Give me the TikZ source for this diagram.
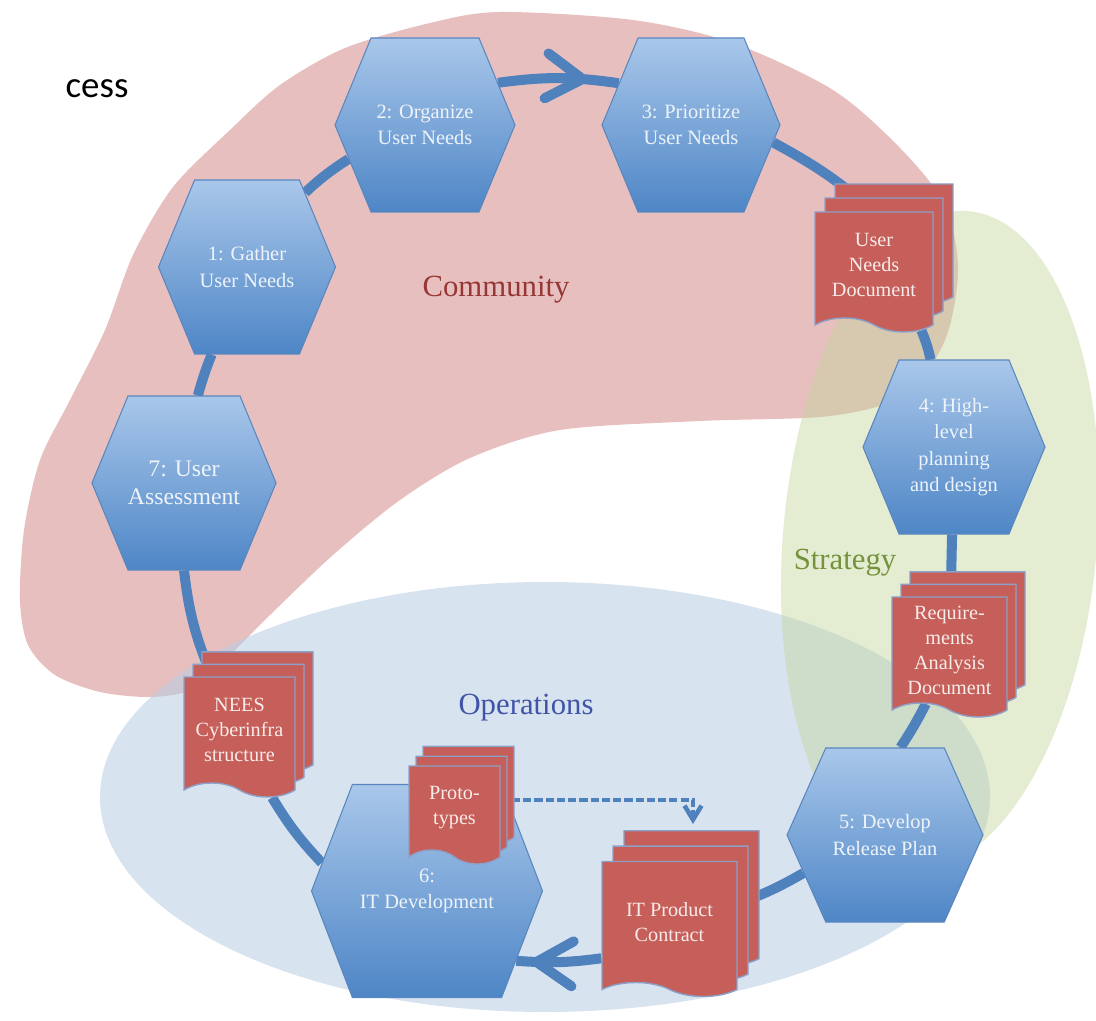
\documentclass[tikz,border=0pt]{standalone}
\usepackage{fontspec}
\setmainfont{Liberation Serif}
\newfontfamily\titlefont{Carlito}
\usepackage{tikz}
\usepackage{xcolor}
\definecolor{hextop}{HTML}{A9C7EA}
\definecolor{hexbot}{HTML}{4E86C6}
\definecolor{hexline}{HTML}{5A86BF}
\definecolor{hextext}{HTML}{EEF3FA}
\definecolor{docred}{HTML}{C65E59}
\definecolor{docline}{HTML}{8DA0C8}
\definecolor{doctext}{HTML}{F8ECEA}
\definecolor{ringblue}{HTML}{4F81BD}
\definecolor{commpink}{HTML}{D99594}
\definecolor{stratgreen}{HTML}{C3D69B}
\definecolor{opsblue}{HTML}{B8CCE4}
\definecolor{commtext}{HTML}{953735}
\definecolor{strattext}{HTML}{76923C}
\definecolor{opstext}{HTML}{4054A8}
\tikzset{hexa/.style={signal, signal to=west and east, signal pointer angle=135,
   minimum width=3.6cm, minimum height=3.48cm, inner sep=0pt,
   top color=hextop, bottom color=hexbot, draw=hexline, line width=0.6pt,
   text=hextext, align=center, font=\fontsize{11.6}{15}\selectfont},
 docu/.style={tape, tape bend top=none, tape bend bottom=out and in,
   tape bend height=0.28cm, minimum height=2.4cm, inner sep=1pt,
   fill=docred, draw=docline, line width=0.8pt,
   text=doctext, align=center, font=\fontsize{11.5}{14.2}\selectfont},
 stack/.style={copy shadow={shadow xshift=2*#1, shadow yshift=2.8*#1, fill=docred, draw=docline},
   copy shadow={shadow xshift=#1, shadow yshift=1.4*#1, fill=docred, draw=docline}},
 ring/.style={ringblue, line width=5.7pt},
 dashlink/.style={ringblue, line width=2.6pt, dash pattern=on 4.6pt off 1.8pt,
   -{Straight Barb[length=0.28cm, width=0.34cm]}},
 midarrow/.style={postaction={decorate, decoration={markings,
   mark=at position #1 with {\arrow{Straight Barb[round, length=0.72cm, width=0.9cm]}}}}},
 area/.style={font=\fontsize{17.5}{20}\selectfont},
}
\usetikzlibrary{backgrounds}
\usetikzlibrary{shapes}
\usetikzlibrary{shadows}
\usetikzlibrary{arrows.meta}
\usetikzlibrary{decorations.markings}

\begin{document}
\begin{tikzpicture}
\useasboundingbox (0,0) rectangle (21.92,-20.42);
\node[hexa, minimum width=3.54cm] (h1) at (4.94,-5.34) {1: Gather\\User Needs};
\node[hexa] (h2) at (8.50,-2.50) {2: Organize\\User Needs};
\node[hexa, minimum width=3.56cm] (h3) at (13.82,-2.50) {3: Prioritize\\User Needs};
\node[hexa, minimum width=3.64cm] (h4) at (19.08,-8.94) {4: High-\\level\\planning\\and design};
\node[hexa, minimum width=3.92cm, signal pointer angle=132] (h5) at (17.70,-16.70) {5: Develop\\Release Plan};
\node[hexa, minimum width=4.62cm, minimum height=4.26cm, signal pointer angle=138] (h6) at (8.54,-17.82) {6:\\IT Development};
\node[hexa, minimum width=3.56cm, font=\fontsize{13.5}{16}\selectfont] (h7) at (3.68,-9.66) {7: User\\Assessment};

\node[docu, stack=0.2cm, minimum width=2.36cm] (und) at (17.48,-5.30) {User\\Needs\\Document};
\node[docu, stack=0.18cm, minimum width=2.3cm] (rad) at (18.99,-13.00) {Require-\\ments\\Analysis\\Document};
\node[docu, stack=0.18cm, minimum width=2.22cm] (nees) at (4.79,-14.60) {NEES\\Cyberinfra\\structure};
\node[docu, stack=0.14cm, minimum width=1.82cm, minimum height=1.96cm] (proto) at (9.09,-16.16) {Proto-\\types};
\node[docu, stack=0.22cm, minimum width=2.7cm, minimum height=2.7cm] (itpc) at (13.39,-18.44) {IT Product\\Contract};
\coordinate (ctop) at (13.86,-16.48);

\node[area, text=commtext] (comm) at (9.92,-5.80) {Community};
\node[area, text=strattext] (strat) at (16.90,-11.26) {Strategy};
\node[area, text=opstext] (ops) at (10.52,-14.16) {Operations};
\node[font=\titlefont\fontsize{21}{24}\selectfont] (title) at (1.94,-1.78) {cess};

\begin{scope}[on background layer]
\fill[commpink, fill opacity=0.6] plot[smooth cycle] coordinates {(8.60,-0.46) (10.00,-0.24)
  (12.66,-0.40) (14.66,-0.86) (16.66,-1.80) (18.00,-2.96) (18.90,-4.10) (19.16,-5.40)
  (18.90,-6.80) (18.10,-7.90) (16.60,-8.32) (14.00,-8.42) (11.20,-8.60) (9.40,-9.16)
  (8.00,-10.00) (6.66,-11.10) (5.40,-12.30) (4.50,-13.20) (3.80,-13.80) (3.00,-13.94)
  (2.00,-13.84) (1.10,-13.50) (0.56,-12.90) (0.40,-12.00) (0.48,-10.60) (0.80,-9.20)
  (1.40,-8.00) (2.10,-6.60) (2.66,-5.10) (3.46,-3.74) (4.60,-2.60) (5.60,-1.70) (6.90,-0.96)};
\fill[opsblue, fill opacity=0.55] (10.90,-15.94) ellipse [x radius=8.9, y radius=4.3];
\fill[stratgreen, fill opacity=0.45, rotate around={-5:(18.80,-10.80)}] (18.80,-10.80) ellipse [x radius=3.14, y radius=6.6];
\draw[ring] (h7.81) to[bend left=3] (h1.248);
\draw[ring] (h1.52) to[bend left=5] (h2.204);
\draw[ring, midarrow=0.74] (h2.30) to[bend left=8] (h3.150);
\draw[ring] (h3.-12) to[bend left=6] (und.north);
\draw[ring] (und) to[bend left=5] (h4.105);
\draw[ring] (h4) -- (rad);
\draw[ring] (rad) to[bend left=3] (h5.80);
\draw[ring] (h5.205) to[bend left=5] (itpc);
\draw[ring, midarrow=0.82] (itpc.208) to[bend left=6] (h6.-38);
\draw[ring] (h6.165) to[bend left=6] (nees);
\draw[ring] (nees) to[bend left=8] (h7.south);
\draw[dashlink] (proto.10) -| (ctop);
\end{scope}
\end{tikzpicture}
\end{document}
